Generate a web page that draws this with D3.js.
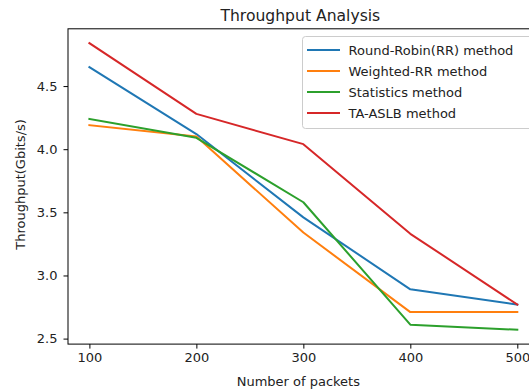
<!DOCTYPE html>
<html>
<head>
<meta charset="utf-8">
<script src="https://cdn.jsdelivr.net/npm/d3@7"></script>
<style>
  body { margin: 0; background: #ffffff; }
  svg { display: block; font-family: "DejaVu Sans", sans-serif; }
</style>
</head>
<body>
<svg></svg>
<script>
var packets = [100, 200, 300, 400, 500];
var roundRobin = [4.65, 4.12, 3.46, 2.89, 2.77];
var weightedRR = [4.19, 4.10, 3.34, 2.71, 2.71];
var statistics = [4.24, 4.09, 3.58, 2.61, 2.57];
var taAslb = [4.84, 4.28, 4.04, 3.33, 2.77];
var seriesNames = ["Round-Robin(RR) method", "Weighted-RR method", "Statistics method", "TA-ASLB method"];
var seriesColors = ["#1f77b4", "#ff7f0e", "#2ca02c", "#d62728"];
var xTicks = [100, 200, 300, 400, 500];
var yTicks = [2.5, 3.0, 3.5, 4.0, 4.5];

var series = [roundRobin, weightedRR, statistics, taAslb].map(function(vals, i) {
    return {
        name: seriesNames[i],
        color: seriesColors[i],
        points: vals.map(function(v, j) { return { x: packets[j], y: v }; })
    };
});

var WIDTH = 529;
var HEIGHT = 391;
var AX_LEFT = 68, AX_RIGHT = 538.7, AX_TOP = 28.8, AX_BOTTOM = 344.1;

var svg = d3.select("svg")
    .attr("width", WIDTH)
    .attr("height", HEIGHT);

// matplotlib style 5% margins
function padded(ext) {
    var r = ext[1] - ext[0];
    return [ext[0] - 0.05 * r, ext[1] + 0.05 * r];
}

var allY = d3.merge([roundRobin, weightedRR, statistics, taAslb]);

var x = d3.scaleLinear()
    .domain(padded(d3.extent(packets)))
    .range([AX_LEFT, AX_RIGHT]);

var y = d3.scaleLinear()
    .domain(padded(d3.extent(allY)))
    .range([AX_BOTTOM, AX_TOP]);

var line = d3.line()
    .x(function(d) { return x(d.x); })
    .y(function(d) { return y(d.y); });

svg.append("g")
    .attr("class", "lines")
    .selectAll("path")
    .data(series)
    .enter().append("path")
    .attr("d", function(d) { return line(d.points); })
    .attr("fill", "none")
    .attr("stroke", function(d) { return d.color; })
    .attr("stroke-width", 2)
    .attr("stroke-linejoin", "round")
    .attr("stroke-linecap", "square");

// spines
svg.append("rect")
    .attr("x", AX_LEFT)
    .attr("y", AX_TOP)
    .attr("width", AX_RIGHT - AX_LEFT)
    .attr("height", AX_BOTTOM - AX_TOP)
    .attr("fill", "none")
    .attr("stroke", "black")
    .attr("stroke-width", 1);

var xAxis = svg.append("g")
    .attr("transform", "translate(0," + AX_BOTTOM + ")")
    .call(d3.axisBottom(x).tickValues(xTicks).tickSize(4.5).tickPadding(4).tickFormat(d3.format("d")));

var yAxis = svg.append("g")
    .attr("transform", "translate(" + AX_LEFT + ",0)")
    .call(d3.axisLeft(y).tickValues(yTicks).tickSize(4.5).tickPadding(6).tickFormat(d3.format(".1f")));

[xAxis, yAxis].forEach(function(ax) {
    ax.select(".domain").remove();
    ax.selectAll("line").attr("stroke", "black").attr("stroke-width", 1);
    ax.selectAll("text")
        .attr("fill", "#222")
        .style("font-size", "13px")
        .style("font-family", "DejaVu Sans, sans-serif");
});

svg.append("text")
    .attr("x", (AX_LEFT + AX_RIGHT) / 2 - 3)
    .attr("y", 21)
    .attr("text-anchor", "middle")
    .attr("fill", "#222")
    .style("font-size", "15.6px")
    .text("Throughput Analysis");

svg.append("text")
    .attr("x", (AX_LEFT + AX_RIGHT) / 2 - 5)
    .attr("y", 386)
    .attr("text-anchor", "middle")
    .attr("fill", "#222")
    .style("font-size", "13px")
    .text("Number of packets");

svg.append("text")
    .attr("transform", "translate(25," + ((AX_TOP + AX_BOTTOM) / 2 - 2) + ") rotate(-90)")
    .attr("text-anchor", "middle")
    .attr("fill", "#222")
    .style("font-size", "13px")
    .text("Throughput(Gbits/s)");

// legend
var legend = svg.append("g")
    .attr("class", "legend")
    .attr("transform", "translate(302.5,36.5)");

legend.append("rect")
    .attr("width", 235)
    .attr("height", 92)
    .attr("rx", 3)
    .attr("fill", "white")
    .attr("fill-opacity", 0.8)
    .attr("stroke", "#cccccc")
    .attr("stroke-width", 1);

var entry = legend.selectAll("g.entry")
    .data(series)
    .enter().append("g")
    .attr("class", "entry")
    .attr("transform", function(d, i) { return "translate(0," + (13.5 + i * 21) + ")"; });

entry.append("line")
    .attr("x1", 4.5)
    .attr("x2", 37.5)
    .attr("stroke", function(d) { return d.color; })
    .attr("stroke-width", 2);

entry.append("text")
    .attr("x", 46)
    .attr("dy", "0.36em")
    .attr("fill", "#222")
    .style("font-size", "13px")
    .text(function(d) { return d.name; });
</script>
</body>
</html>
